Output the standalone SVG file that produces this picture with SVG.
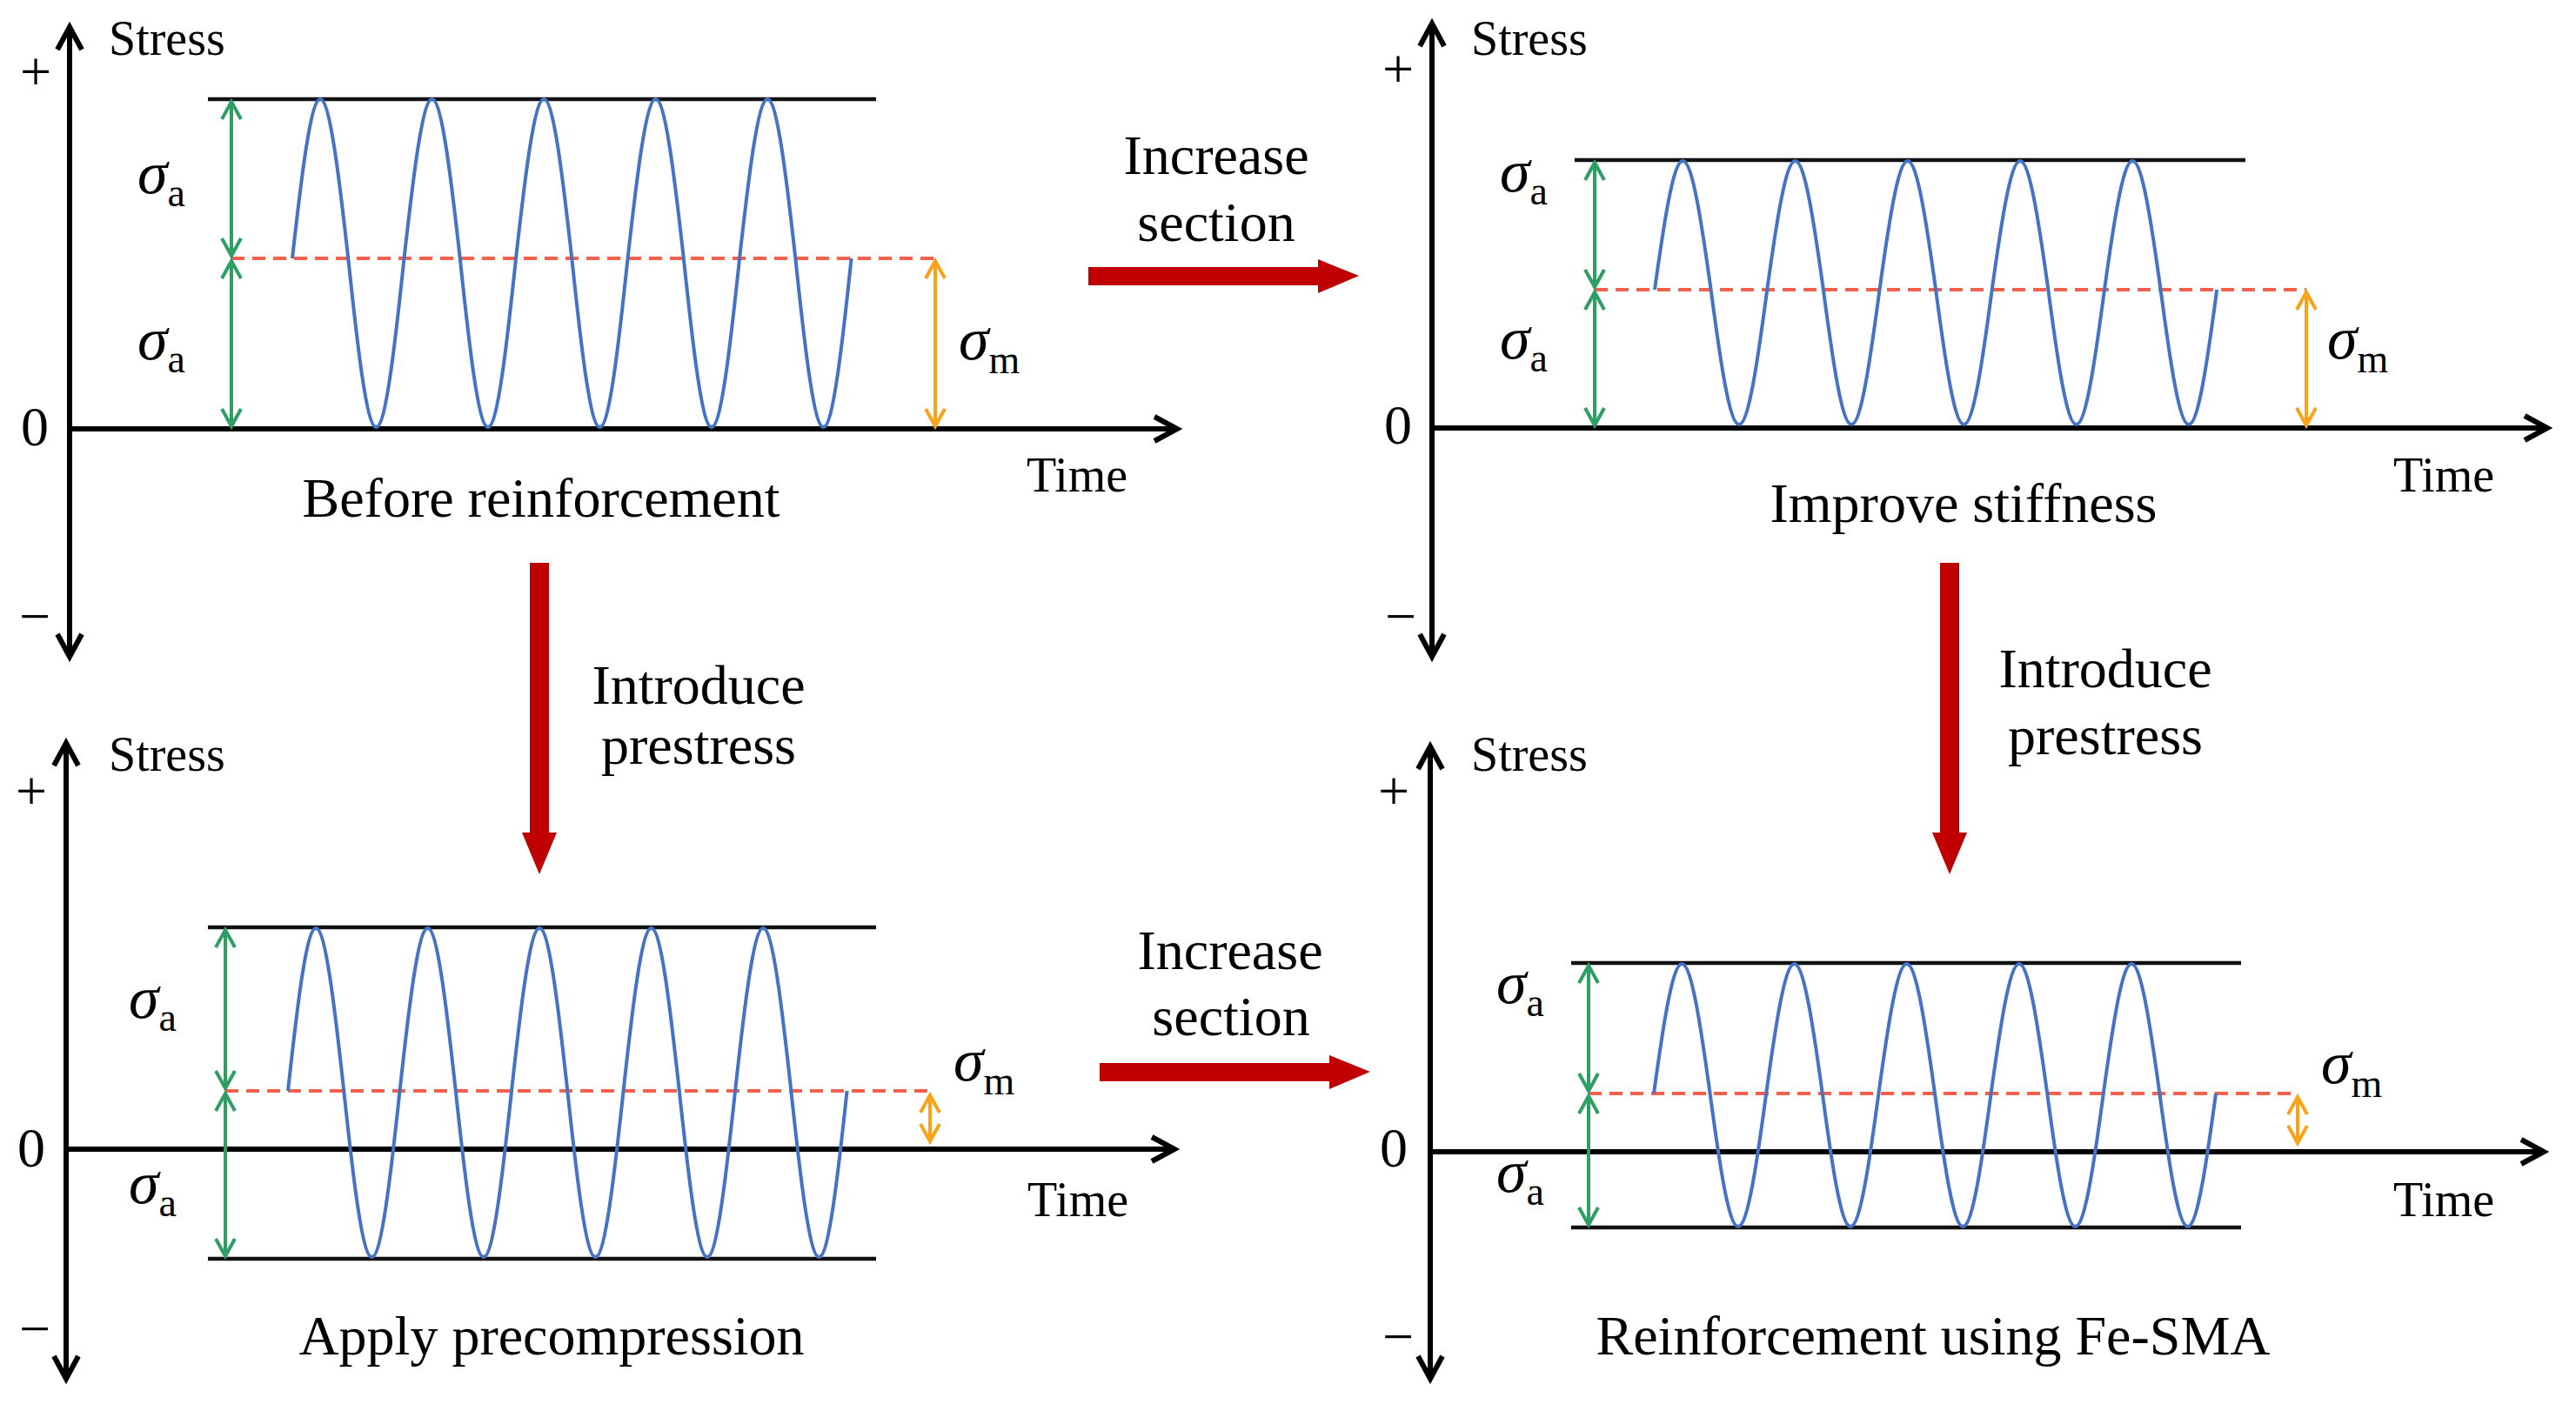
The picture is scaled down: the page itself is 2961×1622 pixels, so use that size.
<svg xmlns="http://www.w3.org/2000/svg" width="2961" height="1622" viewBox="0 0 2961 1622">
<style>
.bg{fill:#fff}
.ax{stroke:#000;stroke-width:6;fill:none;marker-end:url(#axh)}
.ya{stroke:#000;stroke-width:6;fill:none;marker-start:url(#axh);marker-end:url(#axh)}
.lim{stroke:#111;stroke-width:4.5}
.mean{stroke:#F4604C;stroke-width:4;stroke-dasharray:15 9}
.g{stroke:#2E9F63;stroke-width:4;fill:none;marker-start:url(#gh);marker-end:url(#gh)}
.o{stroke:#F9A31A;stroke-width:4;fill:none;marker-start:url(#oh);marker-end:url(#oh)}
.wave{fill:none;stroke:#4472C4;stroke-width:4}
.red{fill:#C00000}
text{font-family:"Liberation Serif","Times New Roman",serif;fill:#000}
.lab{font-size:64px}
.axl{font-size:56px}
.sym{font-size:64px;text-anchor:middle}
.sig{font-style:italic;font-size:70px}
.sub{font-size:46px}
.mid{text-anchor:middle}
</style>
<defs>
<marker id="axh" markerUnits="userSpaceOnUse" markerWidth="40" markerHeight="40" viewBox="-30 -20 40 40" refX="0" refY="0" orient="auto-start-reverse" overflow="visible">
<path d="M-26,-14 L0,0 L-26,14" fill="none" stroke="#000" stroke-width="6"/>
</marker>
<marker id="gh" markerUnits="userSpaceOnUse" markerWidth="30" markerHeight="30" viewBox="-25 -15 30 30" refX="0" refY="0" orient="auto-start-reverse" overflow="visible">
<path d="M-20,-11 L0,0 L-20,11" fill="none" stroke="#2E9F63" stroke-width="4"/>
</marker>
<marker id="oh" markerUnits="userSpaceOnUse" markerWidth="30" markerHeight="30" viewBox="-25 -15 30 30" refX="0" refY="0" orient="auto-start-reverse" overflow="visible">
<path d="M-20,-11 L0,0 L-20,11" fill="none" stroke="#F9A31A" stroke-width="4"/>
</marker>
</defs>
<rect class="bg" x="0" y="0" width="2961" height="1622"/>

<g id="panel-before">
<line class="ya" x1="80" y1="31" x2="80" y2="755"/>
<line class="ax" x1="80" y1="493" x2="1353" y2="493"/>
<line class="lim" x1="239" y1="114" x2="1007" y2="114"/>
<line class="mean" x1="266" y1="297" x2="1076" y2="297"/>
<path class="wave" d="M336,297 c10.48,-93.73 21.07,-183 32.13,-183 c11.05,0 21.65,89.27 32.13,183 c10.48,99.37 21.07,194 32.13,194 c11.05,0 21.65,-94.63 32.13,-194 c10.48,-93.73 21.07,-183 32.13,-183 c11.05,0 21.65,89.27 32.13,183 c10.48,99.37 21.07,194 32.13,194 c11.05,0 21.65,-94.63 32.13,-194 c10.48,-93.73 21.07,-183 32.13,-183 c11.05,0 21.65,89.27 32.13,183 c10.48,99.37 21.07,194 32.13,194 c11.05,0 21.65,-94.63 32.13,-194 c10.48,-93.73 21.07,-183 32.13,-183 c11.05,0 21.65,89.27 32.13,183 c10.48,99.37 21.07,194 32.13,194 c11.05,0 21.65,-94.63 32.13,-194 c10.48,-93.73 21.07,-183 32.13,-183 c11.05,0 21.65,89.27 32.13,183 c10.48,99.37 21.07,194 32.13,194 c11.05,0 21.65,-94.63 32.13,-194"/>
<line class="g" x1="266" y1="117" x2="266" y2="294"/>
<line class="g" x1="266" y1="300" x2="266" y2="490"/>
<line class="o" x1="1075" y1="300" x2="1075" y2="490"/>
<text class="axl" x="125" y="63">Stress</text>
<text class="sym" x="41" y="104">+</text>
<text class="sym" x="40" y="512">0</text>
<text class="sym" x="40" y="730">−</text>
<text class="axl" x="1180" y="565">Time</text>
<text x="158" y="222"><tspan class="sig">σ</tspan><tspan class="sub" dy="15">a</tspan></text>
<text x="158" y="413"><tspan class="sig">σ</tspan><tspan class="sub" dy="15">a</tspan></text>
<text x="1102" y="413"><tspan class="sig">σ</tspan><tspan class="sub" dy="16">m</tspan></text>
<text class="lab mid" x="622" y="594">Before reinforcement</text>
</g>

<g id="panel-stiffness">
<line class="ya" x1="1646" y1="27" x2="1646" y2="755"/>
<line class="ax" x1="1646" y1="492" x2="2928" y2="492"/>
<line class="lim" x1="1810" y1="184" x2="2581" y2="184"/>
<line class="mean" x1="1833" y1="333" x2="2651" y2="333"/>
<path class="wave" d="M1902,333 c10.54,-75.81 21.2,-148 32.31,-148 c11.11,0 21.77,72.19 32.31,148 c10.54,79.39 21.2,155 32.31,155 c11.11,0 21.77,-75.61 32.31,-155 c10.54,-75.81 21.2,-148 32.31,-148 c11.11,0 21.77,72.19 32.31,148 c10.54,79.39 21.2,155 32.31,155 c11.11,0 21.77,-75.61 32.31,-155 c10.54,-75.81 21.2,-148 32.31,-148 c11.11,0 21.77,72.19 32.31,148 c10.54,79.39 21.2,155 32.31,155 c11.11,0 21.77,-75.61 32.31,-155 c10.54,-75.81 21.2,-148 32.31,-148 c11.11,0 21.77,72.19 32.31,148 c10.54,79.39 21.2,155 32.31,155 c11.11,0 21.77,-75.61 32.31,-155 c10.54,-75.81 21.2,-148 32.31,-148 c11.11,0 21.77,72.19 32.31,148 c10.54,79.39 21.2,155 32.31,155 c11.11,0 21.77,-75.61 32.31,-155"/>
<line class="g" x1="1833" y1="187" x2="1833" y2="330"/>
<line class="g" x1="1833" y1="336" x2="1833" y2="489"/>
<line class="o" x1="2651" y1="336" x2="2651" y2="489"/>
<text class="axl" x="1691" y="63">Stress</text>
<text class="sym" x="1607" y="101">+</text>
<text class="sym" x="1607" y="510">0</text>
<text class="sym" x="1610" y="730">−</text>
<text class="axl" x="2751" y="565">Time</text>
<text x="1724" y="220"><tspan class="sig">σ</tspan><tspan class="sub" dy="15">a</tspan></text>
<text x="1724" y="412"><tspan class="sig">σ</tspan><tspan class="sub" dy="15">a</tspan></text>
<text x="2675" y="412"><tspan class="sig">σ</tspan><tspan class="sub" dy="16">m</tspan></text>
<text class="lab mid" x="2257" y="600">Improve stiffness</text>
</g>

<g id="panel-precompression">
<line class="ya" x1="76" y1="854" x2="76" y2="1585"/>
<line class="ax" x1="76" y1="1321" x2="1350" y2="1321"/>
<line class="lim" x1="239" y1="1066" x2="1007" y2="1066"/>
<line class="lim" x1="239" y1="1447" x2="1007" y2="1447"/>
<line class="mean" x1="259" y1="1254" x2="1070" y2="1254"/>
<path class="wave" d="M331,1254 c10.48,-95.78 21.07,-187 32.13,-187 c11.05,0 21.65,91.22 32.13,187 c10.48,97.83 21.07,191 32.13,191 c11.05,0 21.65,-93.17 32.13,-191 c10.48,-95.78 21.07,-187 32.13,-187 c11.05,0 21.65,91.22 32.13,187 c10.48,97.83 21.07,191 32.13,191 c11.05,0 21.65,-93.17 32.13,-191 c10.48,-95.78 21.07,-187 32.13,-187 c11.05,0 21.65,91.22 32.13,187 c10.48,97.83 21.07,191 32.13,191 c11.05,0 21.65,-93.17 32.13,-191 c10.48,-95.78 21.07,-187 32.13,-187 c11.05,0 21.65,91.22 32.13,187 c10.48,97.83 21.07,191 32.13,191 c11.05,0 21.65,-93.17 32.13,-191 c10.48,-95.78 21.07,-187 32.13,-187 c11.05,0 21.65,91.22 32.13,187 c10.48,97.83 21.07,191 32.13,191 c11.05,0 21.65,-93.17 32.13,-191"/>
<line class="g" x1="259" y1="1069" x2="259" y2="1251"/>
<line class="g" x1="259" y1="1257" x2="259" y2="1444"/>
<line class="o" x1="1069" y1="1259" x2="1069" y2="1312"/>
<text class="axl" x="125" y="886">Stress</text>
<text class="sym" x="36" y="931">+</text>
<text class="sym" x="36" y="1341">0</text>
<text class="sym" x="40" y="1549">−</text>
<text class="axl" x="1181" y="1398">Time</text>
<text x="148" y="1170"><tspan class="sig">σ</tspan><tspan class="sub" dy="15">a</tspan></text>
<text x="148" y="1383"><tspan class="sig">σ</tspan><tspan class="sub" dy="15">a</tspan></text>
<text x="1096" y="1242"><tspan class="sig">σ</tspan><tspan class="sub" dy="16">m</tspan></text>
<text class="lab mid" x="634" y="1557">Apply precompression</text>
</g>

<g id="panel-fesma">
<line class="ya" x1="1644" y1="858" x2="1644" y2="1585"/>
<line class="ax" x1="1644" y1="1324" x2="2924" y2="1324"/>
<line class="lim" x1="1806" y1="1107" x2="2576" y2="1107"/>
<line class="lim" x1="1806" y1="1411" x2="2576" y2="1411"/>
<line class="mean" x1="1826" y1="1257" x2="2641" y2="1257"/>
<path class="wave" d="M1901,1257 c10.53,-76.32 21.19,-149 32.3,-149 c11.11,0 21.77,72.68 32.3,149 c10.53,78.37 21.19,153 32.3,153 c11.11,0 21.77,-74.63 32.3,-153 c10.53,-76.32 21.19,-149 32.3,-149 c11.11,0 21.77,72.68 32.3,149 c10.53,78.37 21.19,153 32.3,153 c11.11,0 21.77,-74.63 32.3,-153 c10.53,-76.32 21.19,-149 32.3,-149 c11.11,0 21.77,72.68 32.3,149 c10.53,78.37 21.19,153 32.3,153 c11.11,0 21.77,-74.63 32.3,-153 c10.53,-76.32 21.19,-149 32.3,-149 c11.11,0 21.77,72.68 32.3,149 c10.53,78.37 21.19,153 32.3,153 c11.11,0 21.77,-74.63 32.3,-153 c10.53,-76.32 21.19,-149 32.3,-149 c11.11,0 21.77,72.68 32.3,149 c10.53,78.37 21.19,153 32.3,153 c11.11,0 21.77,-74.63 32.3,-153"/>
<line class="g" x1="1826" y1="1110" x2="1826" y2="1254"/>
<line class="g" x1="1826" y1="1260" x2="1826" y2="1408"/>
<line class="o" x1="2641" y1="1261" x2="2641" y2="1314"/>
<text class="axl" x="1691" y="886">Stress</text>
<text class="sym" x="1602" y="931">+</text>
<text class="sym" x="1602" y="1341">0</text>
<text class="sym" x="1607" y="1558">−</text>
<text class="axl" x="2751" y="1398">Time</text>
<text x="1720" y="1153"><tspan class="sig">σ</tspan><tspan class="sub" dy="15">a</tspan></text>
<text x="1720" y="1370"><tspan class="sig">σ</tspan><tspan class="sub" dy="15">a</tspan></text>
<text x="2668" y="1245"><tspan class="sig">σ</tspan><tspan class="sub" dy="16">m</tspan></text>
<text class="lab mid" x="2222" y="1557">Reinforcement using Fe-SMA</text>
</g>

<g id="connectors">
<polygon class="red" points="1251,307 1515,307 1515,298 1562,317 1515,337 1515,328 1251,328"/>
<polygon class="red" points="1264,1222 1528,1222 1528,1213 1575,1232 1528,1252 1528,1243 1264,1243"/>
<polygon class="red" points="609,647 631,647 631,957 640,957 620,1005 600,957 609,957"/>
<polygon class="red" points="2230,647 2252,647 2252,957 2261,957 2241,1005 2221,957 2230,957"/>
</g>

<g id="connector-labels">
<text class="lab mid" x="1398" y="200">Increase</text>
<text class="lab mid" x="1398" y="277">section</text>
<text class="lab mid" x="1414" y="1114">Increase</text>
<text class="lab mid" x="1415" y="1190">section</text>
<text class="lab mid" x="803" y="809">Introduce</text>
<text class="lab mid" x="803" y="878">prestress</text>
<text class="lab mid" x="2420" y="790">Introduce</text>
<text class="lab mid" x="2420" y="867">prestress</text>
</g>
</svg>
